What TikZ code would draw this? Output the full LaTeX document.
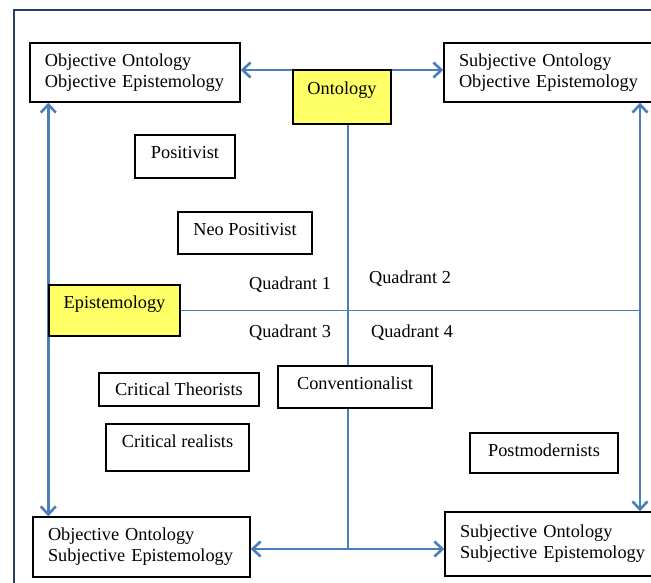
\documentclass[tikz,border=0pt]{standalone}
\usepackage{fontspec}
\setmainfont{Liberation Serif}
\usetikzlibrary{arrows.meta,backgrounds}
\definecolor{arrowblue}{RGB}{74,126,187}
\definecolor{framenavy}{RGB}{38,62,98}
\definecolor{ylw}{RGB}{255,255,102}
\newcommand\boxfont{\fontsize{18.3}{21}\selectfont}
\tikzset{
  box/.style={draw=black, line width=1.4pt, fill=white, inner sep=0pt, font=\boxfont},
  twoline/.style={box, align=left, inner xsep=15pt, inner ysep=0pt},
  ybox/.style={box, fill=ylw},
  txtup/.style={text height=12pt, text depth=#1},
  qlabel/.style={font=\boxfont, inner sep=0pt},
  bigarrow/.style={draw=arrowblue, line width=2.6pt, {Straight Barb[length=8pt,width=15pt]}-{Straight Barb[length=8pt,width=15pt]}},
  thinline/.style={draw=arrowblue, line width=1.5pt},
  frameline/.style={draw=framenavy, line width=2.6pt}
}
\begin{document}
\begin{tikzpicture}[x=1pt,y=-1pt]
\useasboundingbox (0,0) rectangle (651,583);
\draw[frameline] (14,700) -- (14,10) -- (700,10);

% corner boxes
\node[twoline, minimum width=210pt, minimum height=59pt, text width=180pt] (ooe) at (135,72.5) {Objective Ontology\\Objective Epistemology};
\node[twoline, minimum width=240pt, minimum height=59pt, text width=210pt] (soe) at (564,72.5) {Subjective Ontology\\Objective Epistemology};
\node[twoline, minimum width=217pt, minimum height=60pt, text width=187pt] (ose) at (141.5,547) {Objective Ontology\\Subjective Epistemology};
\node[twoline, minimum width=240pt, minimum height=64pt, text width=210pt] (sse) at (565,544) {Subjective Ontology\\Subjective Epistemology};

% axis boxes
\node[ybox, txtup=16pt, minimum width=98pt, minimum height=54pt] (ont) at (342,97) {Ontology};
\node[ybox, txtup=17pt, minimum width=131pt, minimum height=51pt] (epi) at (114.5,310.5) {Epistemology};

% helper coordinates
\coordinate (rx) at (640,310);
\coordinate (by) at (348,549);

% connectors (behind boxes)
\begin{scope}[on background layer]
\draw[bigarrow] ([yshift=2.5pt]ooe.east) -- ([yshift=2.5pt]ooe.east -| soe.west);
\draw[bigarrow] (ooe.south -| epi.west) -- (ose.north -| epi.west);
\draw[bigarrow] (soe.south -| rx) -- (sse.north -| rx);
\draw[bigarrow] (ose.east |- by) -- (sse.west |- by);
\draw[thinline] (epi.east) -- (epi.east -| rx);
\draw[thinline] (ont.south -| by) -- (by);
\end{scope}

% position boxes
\node[box, txtup=7pt, minimum width=100pt, minimum height=43pt] (pos) at (185,156.5) {Positivist};
\node[box, txtup=8pt, minimum width=134pt, minimum height=42pt] (neo) at (245,233) {Neo Positivist};
\node[box, txtup=1pt, minimum width=160pt, minimum height=33pt] (ct) at (179,389.5) {Critical Theorists};
\node[box, txtup=13pt, minimum width=143pt, minimum height=47pt] (cr) at (177.5,447.5) {Critical realists};
\node[box, txtup=8pt, minimum width=154pt, minimum height=42pt] (conv) at (355,387) {Conventionalist};
\node[box, txtup=6pt, minimum width=148pt, minimum height=40pt] (post) at (544,453) {Postmodernists};

% quadrant labels
\node[qlabel] (q1) at (290,285) {Quadrant 1};
\node[qlabel] (q2) at (410,279) {Quadrant 2};
\node[qlabel] (q3) at (290,333) {Quadrant 3};
\node[qlabel] (q4) at (412,333) {Quadrant 4};
\end{tikzpicture}
\end{document}
